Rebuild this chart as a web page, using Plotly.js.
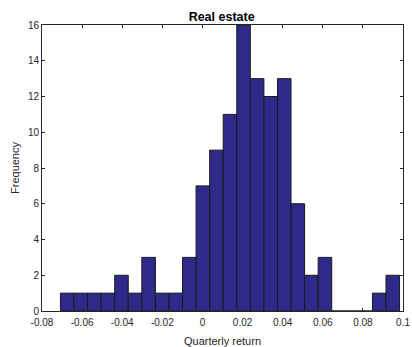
<!DOCTYPE html>
<html>
<head>
<meta charset="utf-8">
<script src="https://cdn.plot.ly/plotly-3.0.1.min.js"></script>
<style>html,body{margin:0;padding:0;background:#fff;}#chart{width:412px;height:347px;}</style>
</head>
<body>
<div id="chart"></div>
<script>
// Histogram bin centers (quarterly return) and counts
const binCenters = [-0.06742, -0.06066, -0.05389, -0.04713, -0.04037, -0.03360, -0.02684, -0.02008, -0.01331, -0.00655,
  0.00021, 0.00698, 0.01374, 0.02050, 0.02727, 0.03403, 0.04079, 0.04756, 0.05432, 0.06108,
  0.06785, 0.07461, 0.08137, 0.08814, 0.09490];
const counts = [1, 1, 1, 1, 2, 1, 3, 1, 1, 3,
  7, 9, 11, 16, 13, 12, 13, 6, 2, 3,
  0, 0, 0, 1, 2];
const binWidth = 0.006763;
const xTickVals = [-0.08, -0.06, -0.04, -0.02, 0, 0.02, 0.04, 0.06, 0.08, 0.1];
const xTickText = ['-0.08', '-0.06', '-0.04', '-0.02', '0', '0.02', '0.04', '0.06', '0.08', '0.1'];
const yTickVals = [0, 2, 4, 6, 8, 10, 12, 14, 16];

const trace = {
  type: 'bar',
  x: binCenters,
  y: counts,
  width: binWidth,
  marker: {color: '#2f2a89', line: {color: '#1a1a1a', width: 1}},
  hoverinfo: 'x+y'
};

const axisCommon = {
  showgrid: false,
  zeroline: false,
  showline: true,
  linecolor: '#262626',
  linewidth: 1,
  mirror: 'ticks',
  ticks: 'inside',
  ticklen: 3,
  tickcolor: '#262626',
  tickfont: {family: 'Liberation Sans, Arial, sans-serif', size: 10, color: '#262626'}
};

const layout = {
  width: 412,
  height: 347,
  margin: {l: 42, r: 9, t: 25, b: 36},
  paper_bgcolor: '#ffffff',
  plot_bgcolor: '#ffffff',
  showlegend: false,
  bargap: 0,
  title: {
    text: '<b>Real estate</b>',
    font: {family: 'Liberation Sans, Arial, sans-serif', size: 12.5, color: '#000'},
    x: 0.538, xanchor: 'center', xref: 'container',
    y: 0.952, yanchor: 'middle', yref: 'container'
  },
  xaxis: Object.assign({}, axisCommon, {
    range: [-0.08, 0.1],
    tickmode: 'array',
    tickvals: xTickVals,
    ticktext: xTickText,
    ticklabelstandoff: 2,
    title: {text: 'Quarterly return', standoff: 10,
      font: {family: 'Liberation Sans, Arial, sans-serif', size: 11, color: '#262626'}}
  }),
  yaxis: Object.assign({}, axisCommon, {
    range: [0, 16],
    tickmode: 'array',
    tickvals: yTickVals,
    ticktext: yTickVals.map(String),
    title: {text: 'Frequency', standoff: 6,
      font: {family: 'Liberation Sans, Arial, sans-serif', size: 11, color: '#262626'}}
  })
};

Plotly.newPlot('chart', [trace], layout, {staticPlot: true, displayModeBar: false});
</script>
</body>
</html>
